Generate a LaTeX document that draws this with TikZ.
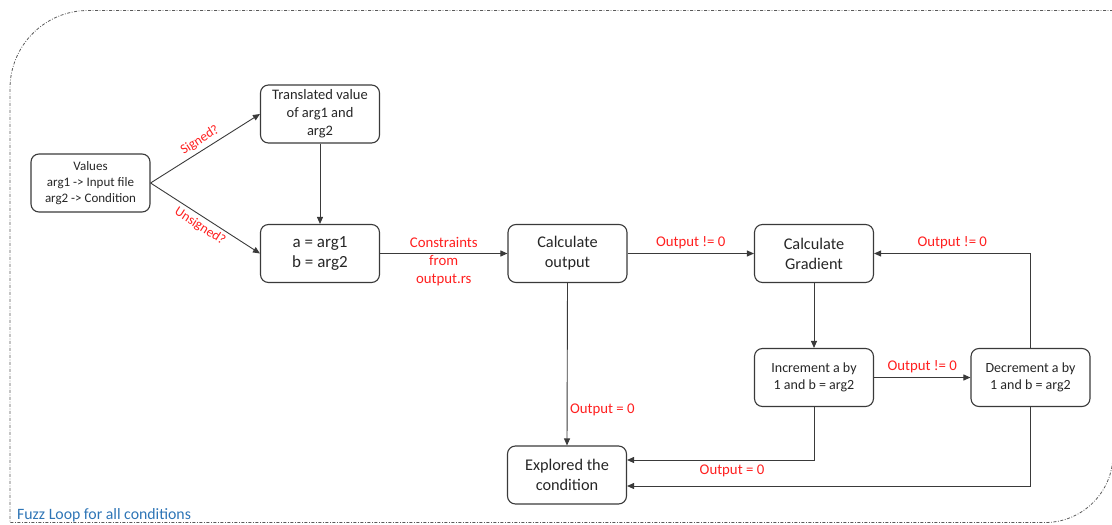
\documentclass[tikz,border=0pt]{standalone}
\usepackage{fontspec}
\setmainfont{Carlito}
\usetikzlibrary{arrows.meta}
\definecolor{lblred}{HTML}{FF1F1F}
\definecolor{lblblue}{HTML}{2E75B6}
\definecolor{edge}{HTML}{3A3A3A}
\begin{document}
\begin{tikzpicture}[x=1pt,y=-1pt,
  box/.style={draw=edge, line width=1.1pt, rounded corners=8pt, minimum width=119pt, minimum height=58pt, align=center, inner sep=2pt, text=black!85},
  arr/.style={draw=edge, line width=0.9pt, -{Triangle[length=7pt,width=6pt]}},
  lbl/.style={text=lblred, font=\fontsize{14.8}{18.3}\selectfont, align=center, inner sep=1pt},
  border/.style={draw=black!65, line width=0.8pt, dash pattern=on 3pt off 1.6pt on 0.8pt off 1.6pt}
]
\useasboundingbox (0,0) rectangle (1112,525);
\draw[border] (1113,10.5) -- (88,10.5) arc[start angle=270,end angle=180,radius=78] -- (10,522.5) -- (1045,522.5) arc[start angle=90,end angle=0,radius=68] -- cycle;

\node[box, font=\fontsize{13}{16}\selectfont] (vals) at (90.5,183) {Values\\arg1 -> Input file\\arg2 -> Condition};
\node[box, font=\fontsize{14.5}{17.8}\selectfont] (trans) at (320,114) {Translated value\\of arg1 and\\arg2};
\node[box, font=\fontsize{17}{20.7}\selectfont] (ab) at (320,253.5) {a = arg1\\b = arg2};
\node[box, font=\fontsize{16.3}{20}\selectfont] (calc) at (567.5,253.5) {Calculate\\output};
\node[box, font=\fontsize{16.3}{20}\selectfont] (grad) at (814,253.5) {Calculate\\Gradient};
\node[box, font=\fontsize{14}{17.3}\selectfont] (inc) at (814,377.5) {Increment a by\\1 and b = arg2};
\node[box, font=\fontsize{14}{17.3}\selectfont] (dec) at (1030.5,377.5) {Decrement a by\\1 and b = arg2};
\node[box, font=\fontsize{16.3}{20}\selectfont] (expl) at (567,475) {Explored the\\condition};

\draw[arr] (vals.east) -- node[lbl, sloped, above=2.5pt, font=\fontsize{13.5}{16}\selectfont] (lsig) {Signed?} (trans.west);
\draw[arr] (vals.east) -- node[lbl, sloped, below=2.5pt, font=\fontsize{13.5}{16}\selectfont] (luns) {Unsigned?} (ab.west);
\draw[arr] (trans.south) -- (ab.north);
\draw[arr] (ab.east) -- node[lbl, midway, yshift=-8pt] (lcon) {Constraints\\from\\output.rs} (calc.west);
\draw[arr] (calc.east) -- node[lbl, midway, yshift=10.5pt] (lne1) {Output != 0} (grad.west);
\draw[arr] (grad.south) -- (inc.north);
\draw[arr] (inc.east) -- node[lbl, midway, yshift=10.5pt] (lne2) {Output != 0} (dec.west);
\draw[arr] (dec.north) |- node[lbl, pos=0.75, yshift=10.5pt] (lne3) {Output != 0} (grad.east);
\draw[arr] (calc.south) -- node[lbl, pos=0.78, anchor=west, xshift=1.5pt] (leq1) {Output = 0} (expl.north);
\draw[arr] (inc.south) |- ([yshift=15pt]expl.east);
\draw[arr] (dec.south) |- ([yshift=-11pt]expl.east);
\node[lbl] (leq2) at (732,471) {Output = 0};

\node[text=lblblue, font=\fontsize{15.8}{18}\selectfont, anchor=base west, inner sep=0pt] (title) at (17,519) {Fuzz Loop for all conditions};
\end{tikzpicture}
\end{document}
